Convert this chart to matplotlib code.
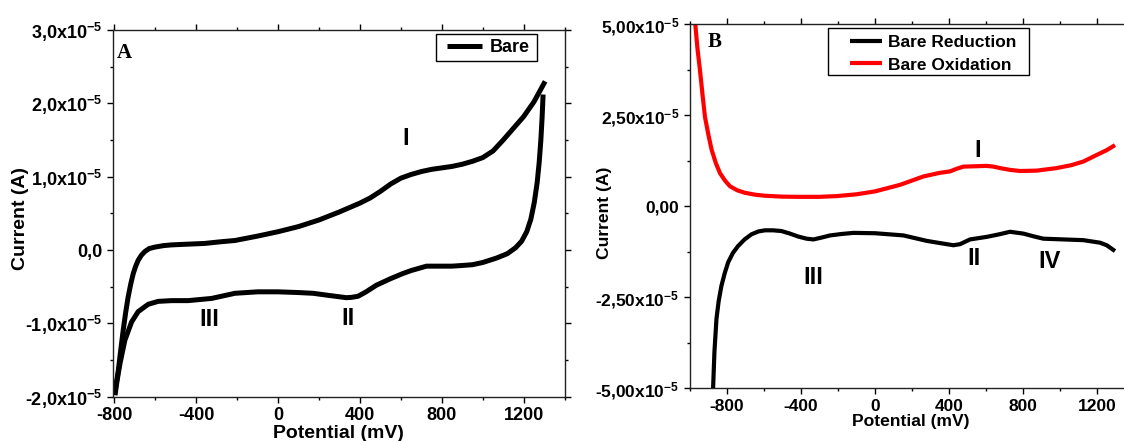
import numpy as np
import matplotlib.pyplot as plt
from matplotlib.ticker import MultipleLocator
from matplotlib.patches import Rectangle

plt.rcParams['font.family'] = 'Liberation Sans'
plt.rcParams['font.weight'] = 'bold'
plt.rcParams['axes.unicode_minus'] = False
plt.rcParams['mathtext.fontset'] = 'custom'
plt.rcParams['mathtext.rm'] = 'Liberation Sans:bold'
plt.rcParams['mathtext.bf'] = 'Liberation Sans:bold'
plt.rcParams['mathtext.default'] = 'bf'

SCALE = 1e-5  # currents below are in units of 1e-5 A

# panel A - bare electrode CV, forward (oxidation) sweep
pot_a_fwd = [-800, -791, -781, -769, -757, -745, -733, -720, -708, -696, -684, -668, -651, -630, -602,
             -560, -521, -440, -358, -290, -211, -100, 0, 100, 200, 300, 400, 450, 500, 550, 600, 650,
             700, 750, 800, 850, 900, 950, 1000, 1050, 1100, 1150, 1200, 1250, 1305]
cur_a_fwd = [-1.97, -1.82, -1.64, -1.36, -1.09, -0.85, -0.64, -0.46, -0.32, -0.22, -0.14, -0.07, -0.02,
             0.02, 0.04, 0.06, 0.07, 0.08, 0.09, 0.11, 0.13, 0.19, 0.25, 0.32, 0.41, 0.52, 0.64, 0.71,
             0.80, 0.90, 0.98, 1.03, 1.07, 1.10, 1.12, 1.14, 1.17, 1.21, 1.26, 1.35, 1.50, 1.66, 1.82,
             2.02, 2.30]

# panel A - reverse (reduction) sweep
pot_a_rev = [1295, 1290, 1284, 1276, 1266, 1252, 1235, 1215, 1190, 1160, 1120, 1067, 1000, 950, 904,
             850, 800, 725, 650, 610, 550, 480, 430, 391, 360, 334, 250, 171, 100, 0, -100, -211,
             -325, -440, -520, -586, -635, -684, -716, -749, -773, -787, -797]
cur_a_rev = [2.12, 1.80, 1.50, 1.20, 0.92, 0.65, 0.42, 0.25, 0.12, 0.03, -0.05, -0.11, -0.17, -0.20,
             -0.21, -0.22, -0.22, -0.22, -0.28, -0.32, -0.39, -0.48, -0.57, -0.63, -0.645, -0.65, -0.62,
             -0.59, -0.58, -0.57, -0.57, -0.59, -0.66, -0.69, -0.69, -0.70, -0.74, -0.84, -0.98, -1.23,
             -1.55, -1.78, -1.98]

# panel B - separate sweeps
pot_b_ox = [-990, -973, -960, -946, -932, -919, -900, -883, -860, -838, -810, -784, -745, -703, -650,
            -595, -500, -416, -300, -207, -100, 0, 135, 261, 350, 405, 440, 477, 540, 603, 640, 675,
            730, 783, 873, 981, 1060, 1125, 1197, 1250, 1296]
cur_b_ox = [5.90, 5.09, 4.35, 3.73, 3.05, 2.45, 1.95, 1.55, 1.18, 0.91, 0.70, 0.55, 0.44, 0.37, 0.32,
            0.29, 0.265, 0.26, 0.26, 0.28, 0.33, 0.41, 0.59, 0.82, 0.92, 0.96, 1.03, 1.09, 1.10, 1.11,
            1.09, 1.05, 1.00, 0.97, 0.98, 1.05, 1.13, 1.23, 1.41, 1.54, 1.68]

pot_b_red = [-876, -868, -857, -845, -830, -812, -794, -768, -740, -705, -668, -630, -595, -550, -506,
             -460, -416, -370, -333, -290, -243, -180, -117, 0, 153, 279, 350, 423, 459, 513, 603, 670,
             729, 801, 860, 909, 1017, 1125, 1215, 1251, 1296]
cur_b_red = [-5.10, -4.00, -3.09, -2.60, -2.18, -1.83, -1.54, -1.28, -1.09, -0.91, -0.77, -0.69, -0.66,
             -0.66, -0.68, -0.75, -0.83, -0.89, -0.91, -0.86, -0.80, -0.76, -0.73, -0.74, -0.80, -0.95,
             -1.01, -1.07, -1.04, -0.91, -0.84, -0.77, -0.70, -0.75, -0.83, -0.89, -0.91, -0.93, -1.00,
             -1.07, -1.23]

# ticks
ticks_a_x = [-800, -400, 0, 400, 800, 1200]
ticks_a_y = [-2.0, -1.0, 0.0, 1.0, 2.0, 3.0]
labels_a_y = ['-2,0x10$^{-5}$', '-1,0x10$^{-5}$', '0,0', '1,0x10$^{-5}$', '2,0x10$^{-5}$', '3,0x10$^{-5}$']
ticks_b_x = [-800, -400, 0, 400, 800, 1200]
ticks_b_y = [-5.0, -2.5, 0.0, 2.5, 5.0]
labels_b_y = ['-5,00x10$^{-5}$', '-2,50x10$^{-5}$', '0,00', '2,50x10$^{-5}$', '5,00x10$^{-5}$']

W, H = 1124, 441
fig = plt.figure(figsize=(W / 100, H / 100), dpi=100)


def box(x0, y0, x1, y1):
    # pixel box (top-left origin) -> figure fraction rect
    return [x0 / W, 1 - y1 / H, (x1 - x0) / W, (y1 - y0) / H]


def frame(x0, y0, x1, y1):
    r = box(x0, y0, x1, y1)
    fig.add_artist(Rectangle((r[0], r[1]), r[2], r[3], transform=fig.transFigure,
                             fill=False, edgecolor='black', lw=1.0))


def style_axes(ax, fs):
    for s in ax.spines.values():
        s.set_linewidth(1.0)
        s.set_color('#222222')
    ax.tick_params(which='both', direction='out', top=True, right=True, labeltop=False,
                   labelright=False, width=1.0, labelsize=fs)
    ax.tick_params(which='major', length=4)
    ax.tick_params(which='minor', length=2.5)


line_kw = dict(solid_joinstyle='round', solid_capstyle='butt')

# ---- panel A
ax1 = fig.add_axes(box(113, 30, 565, 396.7))
ax1.plot(pot_a_fwd, np.array(cur_a_fwd) * SCALE, color='black', lw=3.6, label='Bare', **line_kw)
ax1.plot(pot_a_rev, np.array(cur_a_rev) * SCALE, color='black', lw=3.6, **line_kw)
ax1.set_xlim(-807, 1402)
ax1.set_ylim(-2e-5, 3e-5)
ax1.set_xticks(ticks_a_x)
ax1.set_yticks(np.array(ticks_a_y) * SCALE, labels_a_y)
ax1.xaxis.set_minor_locator(MultipleLocator(200))
ax1.yaxis.set_minor_locator(MultipleLocator(0.5e-5))
style_axes(ax1, 13)

# legend without its own frame, box drawn separately (origin style padding)
ax1.legend(loc='center left', bbox_to_anchor=((447 - 113) / 452, (396.7 - 48) / 366.7),
           borderaxespad=0, borderpad=0, frameon=False, fontsize=13,
           handlelength=1.95, handletextpad=0.4)
frame(436, 34, 536.7, 60.7)

ax1.text(0.026, 0.938, 'A', transform=ax1.transAxes, ha='center', va='center',
         family='Liberation Serif', fontsize=15, fontweight='bold')
ax1.text(624, 1.52e-5, 'I', ha='center', va='center', fontsize=17)
ax1.text(342, -0.93e-5, 'II', ha='center', va='center', fontsize=17)
ax1.text(-334, -0.95e-5, 'III', ha='center', va='center', fontsize=17)

fig.text(338 / W, 1 - 433 / H, 'Potential (mV)', ha='center', va='center', fontsize=14)
fig.text(21 / W, 1 - 219 / H, 'Current (A)', ha='center', va='center', rotation=90, fontsize=14)

# ---- panel B
ax2 = fig.add_axes(box(690, 24.3, 1125, 388.3))
ax2.plot(pot_b_red, np.array(cur_b_red) * SCALE, color='black', lw=3, label='Bare Reduction', **line_kw)
ax2.plot(pot_b_ox, np.array(cur_b_ox) * SCALE, color='#ff0000', lw=3, label='Bare Oxidation', **line_kw)
ax2.set_xlim(-1000, 1350)
ax2.set_ylim(-5e-5, 5e-5)
ax2.set_xticks(ticks_b_x)
ax2.set_yticks(np.array(ticks_b_y) * SCALE, labels_b_y)
ax2.xaxis.set_minor_locator(MultipleLocator(200))
ax2.yaxis.set_minor_locator(MultipleLocator(1.25e-5))
style_axes(ax2, 12.5)

ax2.legend(loc='center left', bbox_to_anchor=((850 - 690) / 435, (388.3 - 53.5) / 364),
           borderaxespad=0, borderpad=0, frameon=False, fontsize=12.5,
           handlelength=1.85, handletextpad=0.35, labelspacing=0.45)
frame(827.7, 27.7, 1029, 75)

ax2.text(0.0563, 0.952, 'B', transform=ax2.transAxes, ha='center', va='center',
         family='Liberation Serif', fontsize=15, fontweight='bold')
ax2.text(555, 1.54e-5, 'I', ha='center', va='center', fontsize=17)
ax2.text(535, -1.43e-5, 'II', ha='center', va='center', fontsize=17)
ax2.text(-333, -1.95e-5, 'III', ha='center', va='center', fontsize=17)
ax2.text(945, -1.53e-5, 'IV', ha='center', va='center', fontsize=17)

fig.text(911 / W, 1 - 421.7 / H, 'Potential (mV)', ha='center', va='center', fontsize=12.6)
fig.text(605 / W, 1 - 213 / H, 'Current (A)', ha='center', va='center', rotation=90, fontsize=12.6)

fig.savefig('out.png', dpi=100)
